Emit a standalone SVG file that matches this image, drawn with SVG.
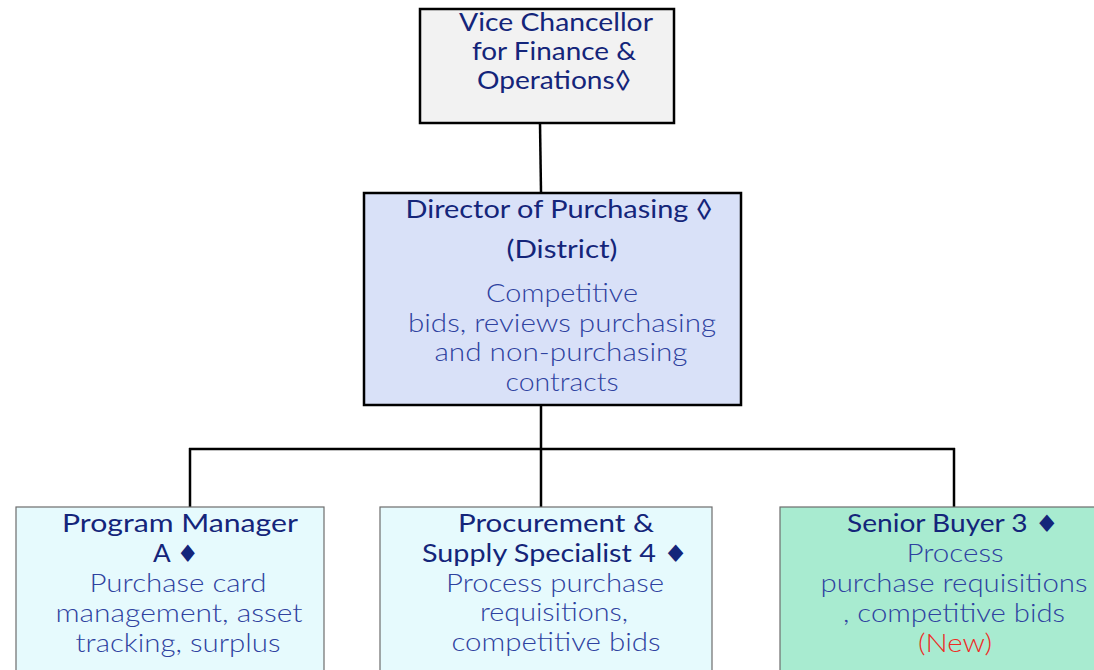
<svg xmlns="http://www.w3.org/2000/svg" width="1094" height="670" viewBox="0 0 1094 670">
<style>
.box{stroke:#000;stroke-width:2.5}
.sub{stroke:#6d6d6d;stroke-width:1.2}
.t{font-family:Lato,"Noto Sans","Liberation Sans",sans-serif;font-size:25px;fill:#14257a;text-anchor:middle}
.b{font-family:Lato,"Noto Sans","Liberation Sans",sans-serif;font-size:25px;fill:#2e42a0;text-anchor:middle;font-weight:300}
.d{font-family:"DejaVu Sans",sans-serif;font-size:24px}
.r{fill:#ee2a24}
.c{stroke:#000;stroke-width:2.5;fill:none}
</style>
<rect width="1094" height="670" fill="#fff"/>
<g id="connectors">
<line class="c" x1="540" y1="123" x2="541" y2="192"/>
<line class="c" x1="541" y1="405" x2="541" y2="507"/>
<line class="c" x1="189" y1="449" x2="955" y2="449"/>
<line class="c" x1="190" y1="448" x2="190" y2="507"/>
<line class="c" x1="954" y1="448" x2="954" y2="507"/>
</g>
<g id="vc">
<rect class="box" x="420" y="9" width="254" height="114" fill="#f2f2f2"/>
<text class="t" x="556" y="31" textLength="194" lengthAdjust="spacingAndGlyphs">Vice Chancellor</text>
<text class="t" x="554" y="60" textLength="164" lengthAdjust="spacingAndGlyphs">for Finance &amp;</text>
<text class="t" x="554" y="89" textLength="154" lengthAdjust="spacingAndGlyphs">Operations◊</text>
</g>
<g id="director">
<rect class="box" x="364" y="193" width="377" height="212" fill="#d9e1f8"/>
<text class="t" x="559" y="218" textLength="307" lengthAdjust="spacingAndGlyphs">Director of Purchasing ◊</text>
<text class="t" x="562" y="258" textLength="111" lengthAdjust="spacingAndGlyphs">(District)</text>
<text class="b" x="562" y="302" textLength="152" lengthAdjust="spacingAndGlyphs">Competitive</text>
<text class="b" x="562" y="332" textLength="308" lengthAdjust="spacingAndGlyphs">bids, reviews purchasing</text>
<text class="b" x="561" y="361" textLength="253" lengthAdjust="spacingAndGlyphs">and non-purchasing</text>
<text class="b" x="562" y="391" textLength="113" lengthAdjust="spacingAndGlyphs">contracts</text>
</g>
<g id="pm">
<rect class="sub" x="16" y="507" width="308" height="170" fill="#e6fafd"/>
<text class="t" x="180" y="532" textLength="236" lengthAdjust="spacingAndGlyphs">Program Manager</text>
<text class="t" x="176" y="562" textLength="46" lengthAdjust="spacingAndGlyphs">A <tspan class="d">♦</tspan></text>
<text class="b" x="178" y="592" textLength="177" lengthAdjust="spacingAndGlyphs">Purchase card</text>
<text class="b" x="179" y="622" textLength="247" lengthAdjust="spacingAndGlyphs">management, asset</text>
<text class="b" x="178" y="652" textLength="205" lengthAdjust="spacingAndGlyphs">tracking, surplus</text>
</g>
<g id="procurement">
<rect class="sub" x="380" y="507" width="332" height="170" fill="#e6fafd"/>
<text class="t" x="556" y="532" textLength="196" lengthAdjust="spacingAndGlyphs">Procurement &amp;</text>
<text class="t" x="555" y="562" textLength="266" lengthAdjust="spacingAndGlyphs">Supply Specialist 4 <tspan class="d">♦</tspan></text>
<text class="b" x="555" y="592" textLength="218" lengthAdjust="spacingAndGlyphs">Process purchase</text>
<text class="b" x="554" y="621" textLength="148" lengthAdjust="spacingAndGlyphs">requisitions,</text>
<text class="b" x="556" y="651" textLength="209" lengthAdjust="spacingAndGlyphs">competitive bids</text>
</g>
<g id="senior">
<rect class="sub" x="780" y="507" width="330" height="170" fill="#a8ebd0"/>
<text class="t" x="953" y="532" textLength="212" lengthAdjust="spacingAndGlyphs">Senior Buyer 3 <tspan class="d">♦</tspan></text>
<text class="b" x="955" y="562" textLength="97" lengthAdjust="spacingAndGlyphs">Process</text>
<text class="b" x="954" y="592" textLength="267" lengthAdjust="spacingAndGlyphs">purchase requisitions</text>
<text class="b" x="954" y="622" textLength="222" lengthAdjust="spacingAndGlyphs">, competitive bids</text>
<text class="b r" x="955" y="652" textLength="74" lengthAdjust="spacingAndGlyphs">(New)</text>
</g>
</svg>
